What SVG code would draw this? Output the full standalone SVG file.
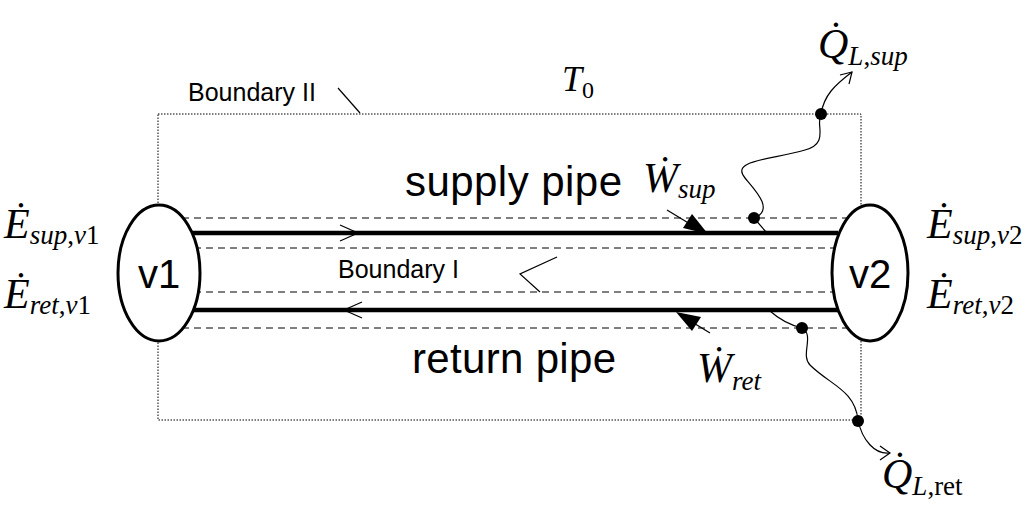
<svg xmlns="http://www.w3.org/2000/svg" width="1024" height="508" viewBox="0 0 1024 508">
<style>
.m{font-family:"Liberation Sans Narrow","Liberation Serif",serif;font-style:italic;fill:#000}
.m{font-family:"Liberation Serif",serif}
.s{font-family:"Liberation Sans",sans-serif;fill:#000}
.d{stroke:#000;stroke-width:1;stroke-dasharray:7,5;fill:none}
.w{stroke:#000;stroke-width:1.2;fill:none}
</style>
<rect width="1024" height="508" fill="#fff"/>
<g id="boundary2"><rect x="158" y="114" width="703" height="306" fill="none" stroke="#000" stroke-width="1" stroke-dasharray="1.5,1.5"/>
<text x="188" y="101" class="s" font-size="25">Boundary II</text><path d="M338 88 L360 113" class="w"/></g>
<g id="boundary1"><path d="M158 218H860M158 248H860M158 292H860M158 328H860" class="d"/>
<text x="338" y="278" class="s" font-size="25">Boundary I</text><path d="M557 257 L520 274 L540 292" class="w"/></g>
<g id="pipes"><path d="M190 233H838M190 310H838" stroke="#000" stroke-width="4.5"/>
<path d="M340 225 L358 233 L340 241M362 302 L344 310 L362 318" class="w" stroke-width="1.8"/>
<text x="405" y="196" class="s" font-size="42" textLength="217">supply pipe</text>
<text x="412" y="373" class="s" font-size="42" textLength="204">return pipe</text></g>
<g id="v1"><ellipse cx="159" cy="273" rx="41" ry="68" fill="#fff" stroke="#000" stroke-width="3"/><text x="159" y="288" class="s" font-size="40" text-anchor="middle">v1</text></g>
<g id="v2"><ellipse cx="870" cy="273" rx="38" ry="68" fill="#fff" stroke="#000" stroke-width="3"/><text x="870" y="288" class="s" font-size="40" text-anchor="middle">v2</text></g>
<g id="connectors">
<path d="M667 210 L690 224" class="w"/><path d="M708 234 L683 228 L692 214 Z" fill="#000"/>
<path d="M710 333 L692 322" class="w"/><path d="M676 312 L701 317 L692 331 Z" fill="#000"/>
<path d="M754 218 L766 232M754 218 C775 210 755 190 745 178 C730 160 770 160 805 150 C830 143 815 125 821 114 C824 95 835 85 852 72" class="w"/>
<path d="M840 75 L852 72 L849 84" class="w"/>
<circle cx="754" cy="218" r="6"/><circle cx="821" cy="114" r="6"/>
<path d="M770 311 C780 320 790 325 802 328 C815 335 800 355 810 365 C830 385 855 390 858 420 C862 440 875 455 890 453" class="w"/>
<path d="M880 446 L890 453 L880 460" class="w"/>
<circle cx="802" cy="328" r="6"/><circle cx="858" cy="421" r="6"/></g>
<g id="labels" class="m" font-style="italic">
<text x="562" y="91" font-size="36">T<tspan font-size="24" font-style="normal" dy="7">0</tspan></text>
<text x="818" y="58" font-size="42">Q̇<tspan font-size="27" dy="7">L</tspan><tspan font-size="27" font-style="normal">,</tspan><tspan font-size="27">sup</tspan></text>
<text x="882" y="488" font-size="42">Q̇<tspan font-size="27" dy="7">L</tspan><tspan font-size="27" font-style="normal">,ret</tspan></text>
<text x="643" y="192" font-size="42">Ẇ<tspan font-size="27" dy="6">sup</tspan></text>
<text x="697" y="382" font-size="42">Ẇ<tspan font-size="27" dy="8">ret</tspan></text>
<text x="4" y="238" font-size="42">Ė<tspan font-size="27" dy="6">sup</tspan><tspan font-size="27" font-style="normal">,</tspan><tspan font-size="27">v</tspan><tspan font-size="27" font-style="normal">1</tspan></text>
<text x="4" y="308" font-size="42">Ė<tspan font-size="27" dy="6">ret</tspan><tspan font-size="27" font-style="normal">,</tspan><tspan font-size="27">v</tspan><tspan font-size="27" font-style="normal">1</tspan></text>
<text x="927" y="238" font-size="42">Ė<tspan font-size="27" dy="6">sup</tspan><tspan font-size="27" font-style="normal">,</tspan><tspan font-size="27">v</tspan><tspan font-size="27" font-style="normal">2</tspan></text>
<text x="927" y="308" font-size="42">Ė<tspan font-size="27" dy="6">ret</tspan><tspan font-size="27" font-style="normal">,</tspan><tspan font-size="27">v</tspan><tspan font-size="27" font-style="normal">2</tspan></text>
</g>
</svg>
